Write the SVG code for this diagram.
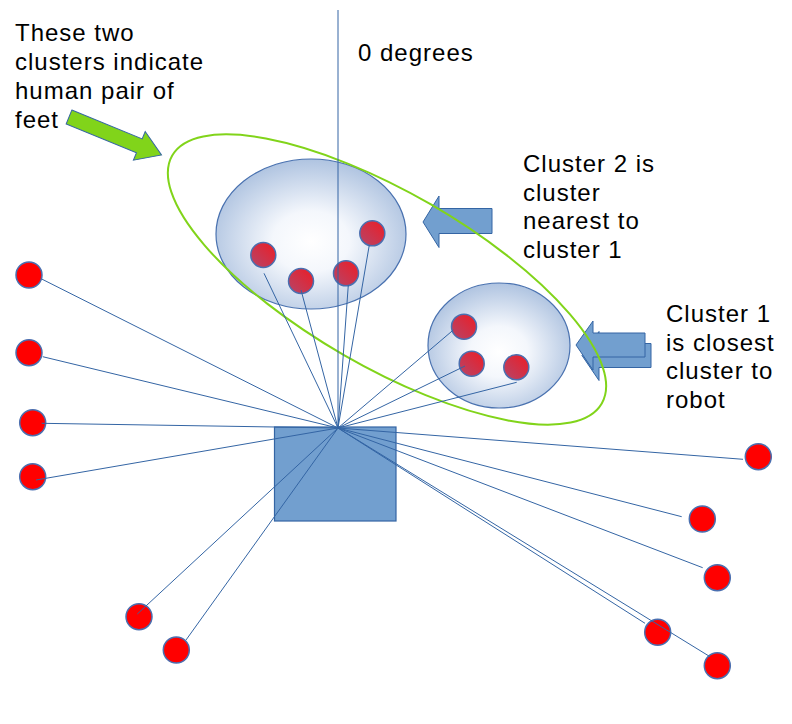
<svg xmlns="http://www.w3.org/2000/svg" width="792" height="724" viewBox="0 0 792 724">
<defs>
<radialGradient id="clusterFill" cx="50%" cy="55%" r="58%">
<stop offset="0" stop-color="#ffffff"/>
<stop offset="0.35" stop-color="#f4f7fc"/>
<stop offset="1" stop-color="#a9bfde"/>
</radialGradient>
<linearGradient id="dotFill" x1="1" y1="0" x2="0" y2="1">
<stop offset="0" stop-color="#ee1c24"/>
<stop offset="1" stop-color="#b4466a"/>
</linearGradient>
<style>
.txt{font-family:"Liberation Sans",Arial,sans-serif;font-size:24px;fill:#000;letter-spacing:1px}
.cluster{fill:url(#clusterFill);stroke:#4a72b0;stroke-width:1.2}
.dot{fill:#ff0000;stroke:#4a6fb0;stroke-width:1.5}
.cdot{fill:url(#dotFill);stroke:#4a6fb0;stroke-width:1.5}
.barrow{fill:#729fcf;stroke:#3465a4;stroke-width:1}
.conn line{stroke:#3465a4;stroke-width:1}
</style>
</defs>
<rect width="792" height="724" fill="#ffffff"/>

<g id="label-feet">
<text class="txt" x="15" y="41">These two</text>
<text class="txt" x="15" y="70">clusters indicate</text>
<text class="txt" x="15" y="99">human pair of</text>
<text class="txt" x="15" y="128">feet</text>
</g>
<g id="label-zero">
<text class="txt" x="358" y="61">0 degrees</text>
</g>
<g id="label-cluster2">
<text class="txt" x="523" y="172">Cluster 2 is</text>
<text class="txt" x="523" y="200.5">cluster</text>
<text class="txt" x="523" y="229">nearest to</text>
<text class="txt" x="523" y="257.5">cluster 1</text>
</g>
<g id="label-cluster1">
<text class="txt" x="666" y="322">Cluster 1</text>
<text class="txt" x="666" y="350.5">is closest</text>
<text class="txt" x="666" y="379">cluster to</text>
<text class="txt" x="666" y="407.5">robot</text>
</g>

<g id="green-arrow">
<polygon transform="translate(69,117) rotate(22.3)" points="0,-7.5 76,-7.5 76,-15.5 100,0 76,15.5 76,7.5 0,7.5" fill="#81d41a" stroke="#3465a4" stroke-width="1"/>
</g>
<g id="arrow-cluster2">
<polygon class="barrow" points="423,222 439,196 439,208.5 492,208.5 492,233.5 439,233.5 439,247.5"/>
</g>
<g id="arrow-cluster1">
<polygon class="barrow" transform="translate(6,10.5)" points="576,345 593,321 593,333 645,333 645,357 593,357 593,370"/>
<polygon class="barrow" points="576,345 593,321 593,333 645,333 645,357 593,357 593,370"/>
</g>

<g id="cluster2">
<ellipse class="cluster" cx="311" cy="234" rx="95" ry="75"/>
</g>
<g id="cluster1">
<ellipse class="cluster" cx="499" cy="345.5" rx="71" ry="62.5"/>
</g>

<g id="feet-outline">
<ellipse cx="387" cy="279.5" rx="248" ry="87" transform="rotate(30 387 279.5)" fill="none" stroke="#81d41a" stroke-width="2"/>
</g>

<g id="robot">
<rect x="274.5" y="427" width="121.5" height="94" fill="#729fcf" stroke="#3465a4" stroke-width="1.2"/>
</g>

<g id="points">
<circle class="cdot" cx="263.3" cy="255" r="12.5"/>
<circle class="cdot" cx="301" cy="281" r="12.5"/>
<circle class="cdot" cx="346" cy="273.3" r="12.5"/>
<circle class="cdot" cx="372.3" cy="233.3" r="12.5"/>
<circle class="cdot" cx="464" cy="326.7" r="12.5"/>
<circle class="cdot" cx="471.7" cy="363.7" r="12.5"/>
<circle class="cdot" cx="516.3" cy="367.3" r="12.5"/>
<circle class="dot" cx="29" cy="275" r="13"/>
<circle class="dot" cx="29" cy="352.7" r="13"/>
<circle class="dot" cx="32.7" cy="422.7" r="13"/>
<circle class="dot" cx="32.7" cy="476.7" r="13"/>
<circle class="dot" cx="139" cy="616.7" r="13"/>
<circle class="dot" cx="176.3" cy="650" r="13"/>
<circle class="dot" cx="758.3" cy="456.7" r="13"/>
<circle class="dot" cx="702.3" cy="519" r="13"/>
<circle class="dot" cx="717.3" cy="577.7" r="13"/>
<circle class="dot" cx="657.7" cy="632.3" r="13"/>
<circle class="dot" cx="717.3" cy="665.7" r="13"/>
</g>

<g id="connectors" class="conn">
<line x1="338" y1="10" x2="338" y2="428"/>
<line x1="338" y1="428" x2="41.7" y2="279"/>
<line x1="338" y1="428" x2="42.7" y2="356.7"/>
<line x1="338" y1="428" x2="41.7" y2="423.3"/>
<line x1="338" y1="428" x2="36" y2="480"/>
<line x1="338" y1="428" x2="137.3" y2="614"/>
<line x1="338" y1="428" x2="186" y2="640"/>
<line x1="338" y1="428" x2="743" y2="459.3"/>
<line x1="338" y1="428" x2="681.7" y2="516.7"/>
<line x1="338" y1="428" x2="702.7" y2="567.7"/>
<line x1="338" y1="428" x2="645" y2="623.3"/>
<line x1="338" y1="428" x2="710" y2="656.7"/>
<line x1="338" y1="428" x2="264" y2="273.3"/>
<line x1="338" y1="428" x2="301" y2="290"/>
<line x1="338" y1="428" x2="348.3" y2="285"/>
<line x1="338" y1="428" x2="369.3" y2="245"/>
<line x1="338" y1="428" x2="453.3" y2="330"/>
<line x1="338" y1="428" x2="465" y2="366"/>
<line x1="338" y1="428" x2="516.7" y2="382.3"/>
</g>
</svg>
